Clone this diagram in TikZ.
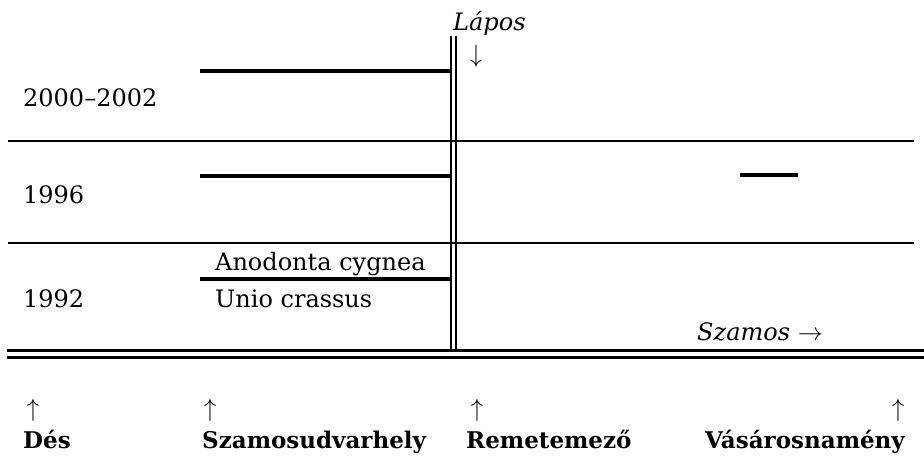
\documentclass[tikz,border=0pt]{standalone}
\usepackage{fontspec}
\setmainfont{DejaVu Serif}
\begin{document}
\begin{tikzpicture}[x=1pt,y=-1pt,
  thinline/.style={line width=1.4pt},
  thickseg/.style={line width=3.4pt},
  lbl/.style={anchor=base west,inner sep=0pt,font=\fontsize{24}{28}\selectfont},
  itlbl/.style={lbl,font=\fontsize{24}{28}\selectfont\itshape},
  town/.style={anchor=base west,inner sep=0pt,font=\fontsize{23}{28}\selectfont\bfseries},
  arr/.style={anchor=base,inner sep=0pt,font=\fontsize{24}{28}\selectfont}]
\useasboundingbox (0,0) rectangle (924,459);
% horizontal separators
\draw[thinline] (8,141) -- (914,141);
\draw[thinline] (8,243) -- (914,243);
% Szamos double line
\draw[line width=3.4pt] (7,350.5) -- (924,350.5);
\draw[line width=3.4pt] (7,357.5) -- (924,357.5);
% Lapos double line
\draw[line width=1.8pt] (451,36) -- (451,349);
\draw[line width=1.8pt] (456,36) -- (456,349);
% thick segments
\draw[thickseg] (200,71) -- (451,71);
\draw[thickseg] (200,176) -- (451,176);
\draw[thickseg] (200,279) -- (451,279);
\draw[thickseg] (740,175) -- (798,175);
% year labels
\node[lbl] (y1) at (23,106) {2000–2002};
\node[lbl] (y2) at (23,203) {1996};
\node[lbl] (y3) at (23,307) {1992};
\node[lbl] (sp1) at (215,270) {Anodonta cygnea};
\node[lbl] (sp2) at (215,307) {Unio crassus};
% rivers
\node[itlbl] (lapos) at (453,30) {Lápos};
\node[arr] (ldown) at (476,62) {$\downarrow$};
\node[itlbl] (szamos) at (697,340) {Szamos $\rightarrow$};
% towns
\node[arr] (a1) at (33,416) {$\uparrow$};
\node[arr] (a2) at (210,416) {$\uparrow$};
\node[arr] (a3) at (477,416) {$\uparrow$};
\node[arr] (a4) at (898,416) {$\uparrow$};
\node[town] (t1) at (23,448) {Dés};
\node[town] (t2) at (202,448) {Szamosudvarhely};
\node[town] (t3) at (466,448) {Remetemező};
\node[town] (t4) at (705,448) {Vásárosnamény};
\end{tikzpicture}
\end{document}
